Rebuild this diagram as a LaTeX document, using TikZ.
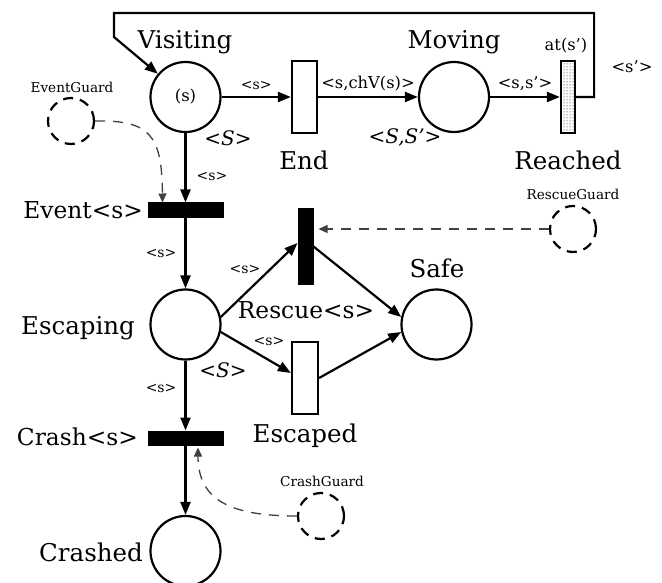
\documentclass[tikz,border=0pt]{standalone}
\usepackage{fontspec}
\setmainfont{DejaVu Serif}
\usetikzlibrary{arrows.meta,patterns}
\begin{document}
\begin{tikzpicture}[x=1pt,y=-1pt,
  place/.style={circle,draw,line width=2.2pt,minimum size=70pt,inner sep=0pt},
  trans/.style={rectangle,draw,line width=2.2pt,inner sep=0pt},
  bar/.style={rectangle,draw,fill=black,line width=1pt,inner sep=0pt},
  arc/.style={line width=2.2pt,-{Triangle[length=13pt,width=10pt]}},
  guard/.style={circle,draw,line width=2.2pt,dash pattern=on 10pt off 7pt,minimum size=46pt,inner sep=0pt},
  garc/.style={line width=1.3pt,draw=black!75,dash pattern=on 10pt off 8pt,-{Triangle[length=9pt,width=8pt]}},
  big/.style={font=\fontsize{24.5}{26}\selectfont,inner sep=0pt},
  bigb/.style={font=\fontsize{23.3}{26}\selectfont,inner sep=0pt},
  mid/.style={font=\fontsize{16.3}{18}\selectfont,inner sep=0pt},
  sm/.style={font=\fontsize{14}{15}\selectfont,inner sep=0pt},
  gl/.style={font=\fontsize{13.6}{15}\selectfont,inner sep=0pt},
  ital/.style={font=\fontsize{20}{22}\selectfont\itshape,inner sep=0pt}]
\useasboundingbox (0,0) rectangle (662,583);
% places and transitions
\node[place] (vis) at (185.5,97) {\fontsize{16.5}{18}\selectfont (s)};
\node[trans,minimum width=25pt,minimum height=72pt] (end) at (304.5,97) {};
\node[place] (mov) at (454,97) {};
\node[trans,pattern=dots,minimum width=14pt,minimum height=72pt] (rea) at (568,97) {};
\node[bar,minimum width=75pt,minimum height=15pt] (ev) at (185.5,210.5) {};
\node[place] (esc) at (185.5,324.5) {};
\node[bar,minimum width=15pt,minimum height=75pt] (resc) at (305.5,246.5) {};
\node[trans,minimum width=26pt,minimum height=72pt] (escd) at (305,378) {};
\node[place] (safe) at (436.5,324.5) {};
\node[bar,minimum width=75pt,minimum height=14pt] (cr) at (185.5,438) {};
\node[place] (crd) at (185.5,551) {};
\node[guard] (eg) at (71,121) {};
\node[guard] (rg) at (573,229) {};
\node[guard] (cg) at (321,516) {};
% big labels
\node[big] (lvis) at (185,42) {Visiting};
\node[big] (lmov) at (454,42) {Moving};
\node[big] (lend) at (304,160) {End};
\node[big] (lrea) at (568,160) {Reached};
\node[bigb,anchor=east] (lev) at (143,210) {Event<s>};
\node[big] (lesc) at (78,328) {Escaping};
\node[bigb] (lresc) at (306,310) {Rescue<s>};
\node[big] (lsafe) at (437,268) {Safe};
\node[bigb,anchor=east] (lcr) at (138,437) {Crash<s>};
\node[big] (lescd) at (305,436) {Escaped};
\node[big,anchor=east] (lcrd) at (143,552) {Crashed};
% guard labels
\node[gl] (leg) at (72,87) {EventGuard};
\node[gl] (lrg) at (573,194) {RescueGuard};
\node[gl] (lcg) at (322,481) {CrashGuard};
% colour-set labels
\node[ital] (s1) at (228,138) {<S>};
\node[ital] (s2) at (405,137) {<S,S’>};
\node[ital] (s3) at (223,370) {<S>};
\node[mid] (at) at (566,46) {at(s’)};
% arcs
\draw[arc] (vis.east) -- node[sm,above=6pt] (a1) {<s>} (end.west);
\draw[arc] (end.east) -- node[mid,above=5pt] (a2) {<s,chV(s)>} (mov.west);
\draw[arc] (mov.east) -- node[mid,above=5pt] (a3) {<s,s’>} (rea.west);
\draw[arc] (rea.east) -- ++(18,0) |- (114,13) -- (114,37) -- (vis);
\node[mid] (a4) at (632,67) {<s’>};
\draw[arc] (vis.south) -- node[sm,right=10pt,pos=0.62] (a5) {<s>} (ev.north);
\draw[arc] (ev.south) -- node[sm,left=8pt] (a6) {<s>} (esc.north);
\draw[arc] (esc.12) -- ([yshift=3.5pt]resc.west);
\node[sm] (a7) at (245,270) {<s>};
\draw[arc] (esc.-12) -- ([yshift=5pt]escd.west);
\node[sm] (a8) at (269,342) {<s>};
\draw[arc] (resc.east) -- (safe.168);
\draw[arc] (escd.east) -- (safe.192);
\draw[arc] (esc.south) -- node[sm,left=8pt,pos=0.4] (a9) {<s>} (cr.north);
\draw[arc] (cr.south) -- (crd.north);
% guard arcs
\draw[garc] (eg.east) .. controls (150,120) and (162,135) .. ([xshift=-23pt]ev.north);
\draw[garc] (rg.west) -- ([xshift=5pt,yshift=17.5pt]resc.east);
\draw[garc] (cg.west) .. controls (230,516) and (198,500) .. ([xshift=12.5pt,yshift=-2pt]cr.south);
\end{tikzpicture}
\end{document}
